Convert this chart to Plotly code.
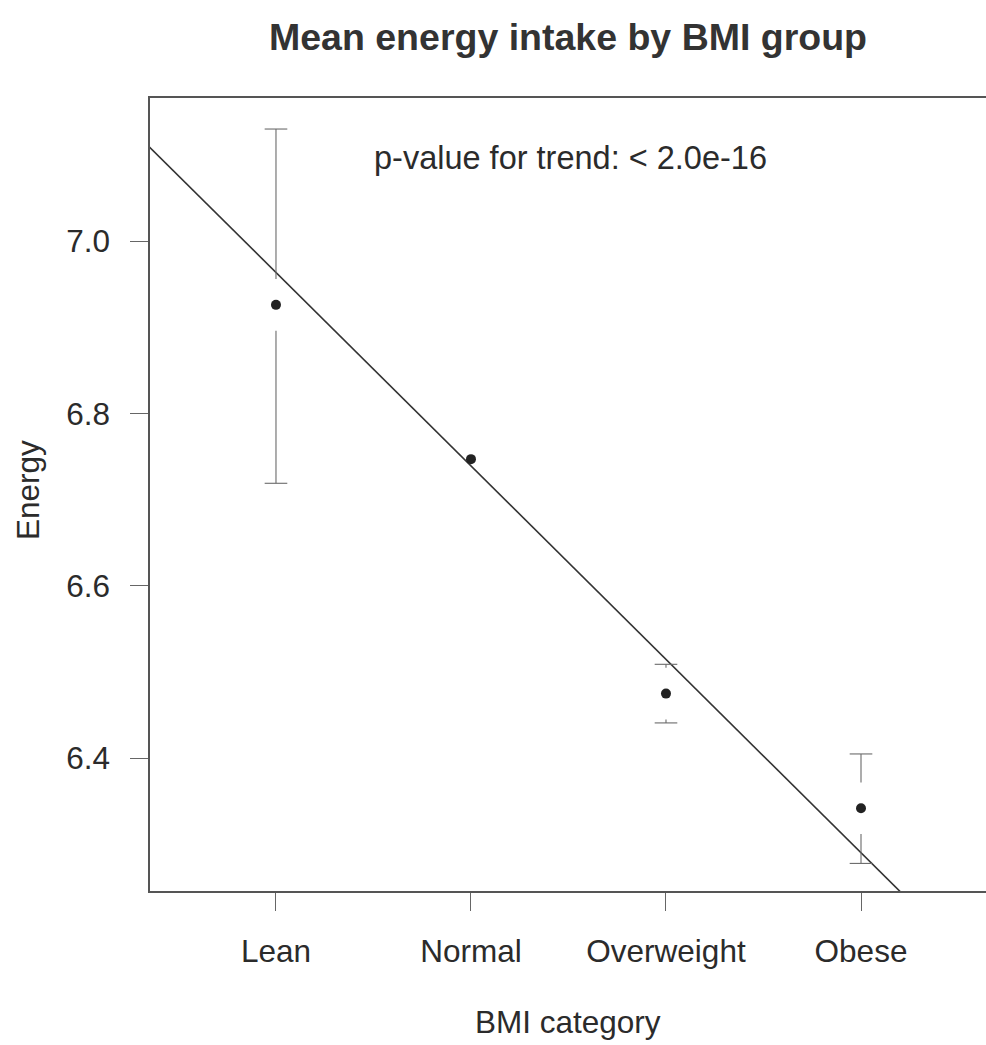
import plotly.graph_objects as go

# ---- data ----
categories = ["Lean", "Normal", "Overweight", "Obese"]
positions = [1, 2, 3, 4]
mean_energy = [6.926, 6.747, 6.475, 6.342]
ci_lower = [6.719, 6.735, 6.441, 6.278]
ci_upper = [7.130, 6.759, 6.509, 6.405]
trend_intercept = 7.188
trend_slope = -0.2244
y_ticks = [6.4, 6.6, 6.8, 7.0]
y_tick_labels = ["6.4", "6.6", "6.8", "7.0"]
annotation_text = "p-value for trend: < 2.0e-16"

# ---- style ----
FONT = "Liberation Sans, Arial, sans-serif"
TXT = "#2b2b2b"
GAP = 0.030     # gap around point (y units)
CAP = 0.058     # cap half width (x units)
X_RANGE = [0.354, 4.641]
Y_RANGE = [6.246, 7.166]

fig = go.Figure()

# trend line (clipped by plot area)
tx = [0, 5]
ty = [trend_intercept + trend_slope * v for v in tx]
fig.add_trace(go.Scatter(x=tx, y=ty, mode="lines",
                         line=dict(color="#333333", width=1.6),
                         hoverinfo="skip", showlegend=False))

# error bars with gap around point
ex, ey = [], []
for p, m, lo, hi in zip(positions, mean_energy, ci_lower, ci_upper):
    if hi - m > GAP:
        ex += [p, p, None, p - CAP, p + CAP, None]
        ey += [m + GAP, hi, None, hi, hi, None]
    if m - lo > GAP:
        ex += [p, p, None, p - CAP, p + CAP, None]
        ey += [m - GAP, lo, None, lo, lo, None]
fig.add_trace(go.Scatter(x=ex, y=ey, mode="lines",
                         line=dict(color="#6a6a6a", width=1.1),
                         hoverinfo="skip", showlegend=False))

# means
fig.add_trace(go.Scatter(x=positions, y=mean_energy, mode="markers",
                         marker=dict(color="#222222", size=10,
                                     line=dict(color="#222222", width=0)),
                         showlegend=False))

fig.update_layout(
    width=986, height=1045,
    margin=dict(l=150, r=0, t=98, b=154),
    paper_bgcolor="white", plot_bgcolor="white",
    font=dict(family=FONT, color=TXT, size=31),
    title=dict(text="<b>Mean energy intake by BMI group</b>",
               font=dict(size=37.5, color="#333333", family=FONT),
               x=0.5, xref="paper", xanchor="center",
               y=1 - 37 / 1045, yref="container", yanchor="middle"),
    showlegend=False,
)

fig.update_xaxes(range=X_RANGE, tickmode="array", tickvals=positions,
                 ticktext=categories, ticks="outside", ticklen=18,
                 tickcolor="#666666", tickwidth=1.2,
                 showline=True, linecolor="#555555", linewidth=1.5,
                 mirror=True, showgrid=False, zeroline=False,
                 ticklabelstandoff=13,
                 tickfont=dict(size=31.5, color=TXT, family=FONT))
fig.update_yaxes(range=Y_RANGE, tickmode="array", tickvals=y_ticks,
                 ticktext=y_tick_labels, ticks="outside", ticklen=18,
                 tickcolor="#666666", tickwidth=1.2,
                 showline=True, linecolor="#555555", linewidth=1.5,
                 mirror=False, showgrid=False, zeroline=False,
                 ticklabelstandoff=14,
                 tickfont=dict(size=31.5, color=TXT, family=FONT))

fig.add_annotation(text=annotation_text, x=2.508, y=7.096,
                   xref="x", yref="y", showarrow=False,
                   xanchor="center", yanchor="middle",
                   font=dict(size=32.5, color=TXT, family=FONT))
fig.add_annotation(text="Energy", x=(28 - 150) / 836, y=(891 - 490) / 793,
                   xref="paper", yref="paper", showarrow=False,
                   textangle=-90, xanchor="center", yanchor="middle",
                   font=dict(size=31.5, color=TXT, family=FONT))
fig.add_annotation(text="BMI category", x=(568 - 150) / 836,
                   y=(891 - 1022) / 793, xref="paper", yref="paper",
                   showarrow=False, xanchor="center", yanchor="middle",
                   font=dict(size=31.5, color=TXT, family=FONT))

fig.write_html("out.html")
